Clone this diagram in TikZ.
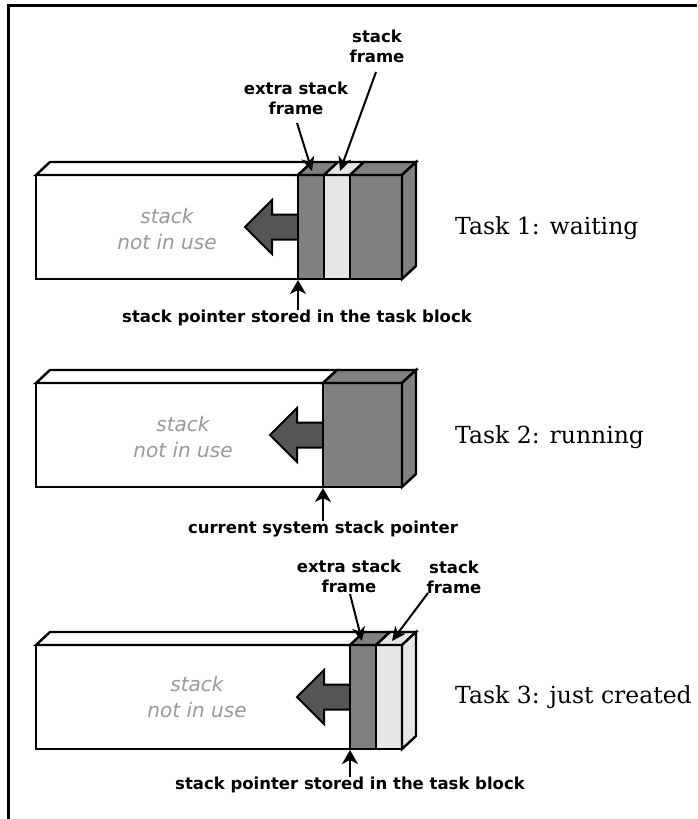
\documentclass[tikz,border=0pt]{standalone}
\usepackage{fontspec}
\usetikzlibrary{arrows.meta,calc}
\newfontfamily\dvsans{DejaVu Sans}
\newfontfamily\dvserif{DejaVu Serif}
\definecolor{darkfill}{HTML}{808080}
\definecolor{lightfill}{HTML}{E6E6E6}
\definecolor{arrowfill}{HTML}{555555}
\definecolor{textgray}{HTML}{999999}
% slab: x1, x2, ytop, ybot, colour (front face + top face)
\newcommand\slab[5]{%
  \filldraw[edge,fill=#5] (#1,#3) rectangle (#2,#4);
  \filldraw[edge,fill=#5] (#1,#3) -- (#1+14,#3-13) -- (#2+14,#3-13) -- (#2,#3) -- cycle;}
% side face: x, ytop, ybot, colour
\newcommand\sideface[4]{%
  \filldraw[edge,fill=#4] (#1,#3) -- (#1,#2) -- (#1+14,#2-13) -- (#1+14,#3-13) -- cycle;}
% push arrow: right x, centre y
\newcommand\pusharrow[2]{%
  \filldraw[line width=2pt,fill=arrowfill] (#1,#2-12.5) -- (#1-26,#2-12.5) -- (#1-26,#2-27)
    -- (#1-53,#2) -- (#1-26,#2+27) -- (#1-26,#2+12.5) -- (#1,#2+12.5);}
\begin{document}
\begin{tikzpicture}[x=1pt,y=-1pt,line join=miter,
  edge/.style={draw=black,line width=2.4pt},
  lbl/.style={font=\dvsans\bfseries\fontsize{16.5}{20}\selectfont,align=center,inner sep=0pt},
  stacktxt/.style={font=\dvsans\itshape\fontsize{20}{26}\selectfont,text=textgray,align=center,inner sep=0pt},
  tasklbl/.style={font=\dvserif\fontsize{23.5}{28}\selectfont,anchor=west,inner sep=0pt},
  ptr/.style={line width=2pt,-{Stealth[length=14pt,width=16pt,inset=4pt]}},
  leader/.style={line width=2pt,-{Stealth[length=14pt,width=13pt,inset=4pt]}}]
\useasboundingbox (0,0) rectangle (697,819);
\draw[line width=2.6pt] (8.5,819) -- (8.5,5.5) -- (697,5.5);

% ---------------- Task 1 ----------------
\slab{36}{298}{175}{279}{white}
\node[stacktxt] (s1) at (167,229) {stack\\not in use};
\pusharrow{298}{227}
\slab{298}{324}{175}{279}{darkfill}
\slab{324}{350}{175}{279}{lightfill}
\slab{350}{402}{175}{279}{darkfill}
\sideface{402}{175}{279}{darkfill}
\node[tasklbl] (t1) at (455,228) {Task 1: waiting};
\node[lbl] (sp1) at (297,318) {stack pointer stored in the task block};
\coordinate (p1) at (298,280);
\draw[ptr] (sp1.north -| p1) -- (p1);
\node[lbl] (sf1) at (377,46) {stack\\frame};
\node[lbl] (ex1) at (296,98) {extra stack\\frame};
\coordinate (sf1s) at (376,72);
\coordinate (ex1s) at (297,123);
\coordinate (sf1t) at (340,171);
\coordinate (ex1t) at (312,171);
\draw[leader] (sf1s) -- (sf1t);
\draw[leader] (ex1s) -- (ex1t);

% ---------------- Task 2 ----------------
\slab{36}{323}{383}{487}{white}
\node[stacktxt] (s2) at (183,437) {stack\\not in use};
\pusharrow{323}{435}
\slab{323}{402}{383}{487}{darkfill}
\sideface{402}{383}{487}{darkfill}
\node[tasklbl] (t2) at (455,437) {Task 2: running};
\node[lbl] (sp2) at (323,529) {current system stack pointer};
\coordinate (p2) at (323,488);
\draw[ptr] (sp2.north -| p2) -- (p2);

% ---------------- Task 3 ----------------
\slab{36}{350}{645}{749}{white}
\node[stacktxt] (s3) at (197,697) {stack\\not in use};
\pusharrow{350}{697}
\slab{350}{376}{645}{749}{darkfill}
\slab{376}{402}{645}{749}{lightfill}
\sideface{402}{645}{749}{lightfill}
\node[tasklbl] (t3) at (455,697) {Task 3: just created};
\node[lbl] (sp3) at (350,785) {stack pointer stored in the task block};
\coordinate (p3) at (350,750);
\draw[ptr] (sp3.north -| p3) -- (p3);
\node[lbl] (ex3) at (349,576) {extra stack\\frame};
\node[lbl] (sf3) at (454,577) {stack\\frame};
\coordinate (ex3s) at (350,594);
\coordinate (sf3s) at (428,593);
\coordinate (ex3t) at (362,641);
\coordinate (sf3t) at (392,641);
\draw[leader] (ex3s) -- (ex3t);
\draw[leader] (sf3s) -- (sf3t);
\end{tikzpicture}
\end{document}
